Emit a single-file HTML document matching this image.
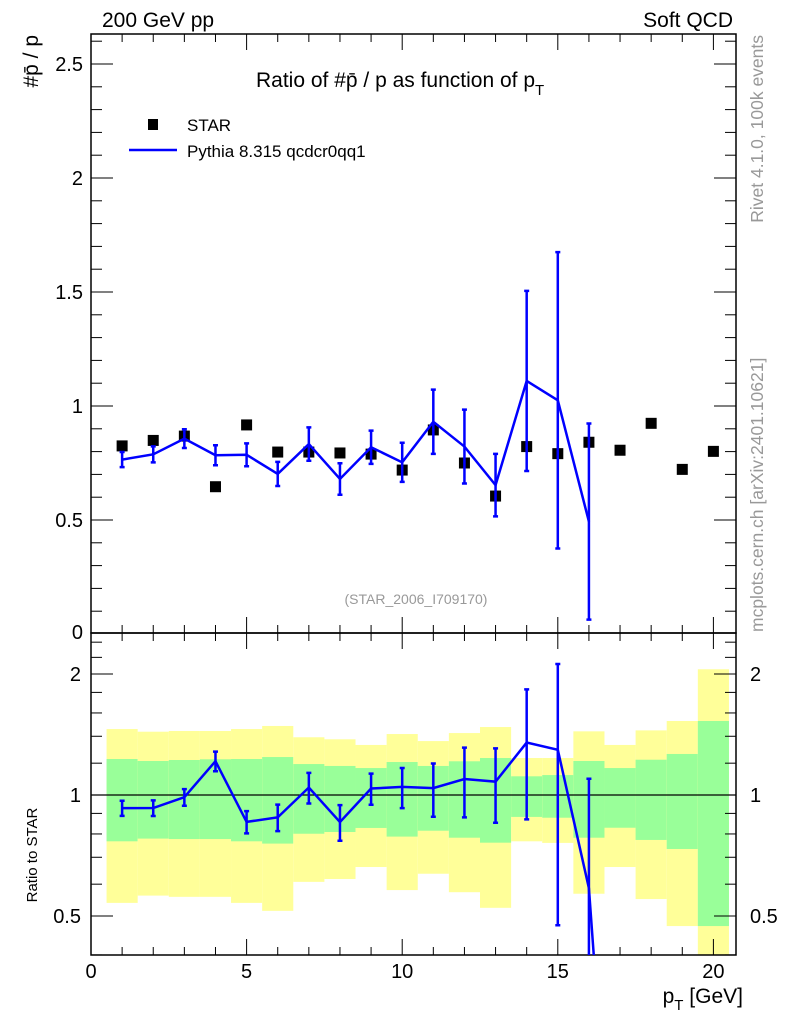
<!DOCTYPE html>
<html><head><meta charset="utf-8"><style>
html,body{margin:0;padding:0;background:#fff;width:786px;height:1024px;overflow:hidden;}
svg{display:block;font-family:"Liberation Sans",Arial,sans-serif;}
</style></head><body>
<svg id="c" width="786" height="1024" viewBox="0 0 786 1024"></svg>
<script>
const bins=[1,2,3,4,5,6,7,8,9,10,11,12,13,14,15,16,17,18,19,20];
const starVals=[0.825,0.849,0.868,0.646,0.917,0.798,0.798,0.794,0.789,0.719,0.895,0.75,0.605,0.822,0.791,0.841,0.806,0.924,0.722,0.801];
const pyVals=[0.765,0.788,0.857,0.784,0.786,0.702,0.833,0.68,0.819,0.753,0.931,0.822,0.653,1.11,1.025,0.493];
const pyErrs=[0.033,0.035,0.041,0.044,0.05,0.053,0.073,0.069,0.073,0.086,0.141,0.162,0.137,0.395,0.65,0.43];
const yelTop=[1.459,1.437,1.443,1.443,1.459,1.485,1.392,1.376,1.332,1.418,1.362,1.426,1.476,1.236,1.236,1.44,1.332,1.448,1.528,2.055];
const grnTop=[1.229,1.215,1.222,1.227,1.229,1.243,1.194,1.181,1.167,1.208,1.181,1.213,1.236,1.113,1.121,1.215,1.167,1.224,1.265,1.528];
const grnBot=[0.767,0.779,0.777,0.777,0.767,0.757,0.801,0.809,0.828,0.788,0.815,0.783,0.761,0.882,0.878,0.783,0.829,0.773,0.734,0.472];
const yelBot=[0.539,0.562,0.558,0.558,0.539,0.515,0.608,0.618,0.662,0.58,0.637,0.573,0.524,0.767,0.76,0.568,0.662,0.551,0.472,0.3];
const xTicks=[0,5,10,15,20];
const yTicksTop=[0.5,1,1.5,2,2.5];
const yTicksBot=[0.5,1,2];

const NS="http://www.w3.org/2000/svg";
const svg=document.getElementById('c');
function el(tag,attrs,parent){const e=document.createElementNS(NS,tag);for(const k in attrs)e.setAttribute(k,attrs[k]);(parent||svg).appendChild(e);return e;}
const L=91,R=736,T1=34,B1=633,T2=633,B2=955;
const xs=v=>L+v*31.12;
const yTop=v=>634-v*228;
const yBot=v=>795-Math.log2(v)*121;

const gb=el('g',{'clip-path':'url(#clipB)'});


const defs=el('defs',{});
const cp=el('clipPath',{id:'clipB'},defs);el('rect',{x:L,y:T2,width:R-L,height:B2-T2},cp);
const cp2=el('clipPath',{id:'clipT'},defs);el('rect',{x:L,y:T1,width:R-L,height:B1-T1},cp2);
bins.forEach((b,i)=>{
  const x0=xs(b-0.5),w=xs(b+0.5)-x0;
  const r1=el('rect',{x:x0,y:yBot(yelTop[i]),width:w,height:yBot(yelBot[i])-yBot(yelTop[i]),fill:'#ffff99'},gb);
  
  
  const r2=el('rect',{x:x0,y:yBot(grnTop[i]),width:w,height:yBot(grnBot[i])-yBot(grnTop[i]),fill:'#99ff99'},gb);
  
  
});
const one=el('line',{x1:L,x2:R,y1:yBot(1),y2:yBot(1),stroke:'#000','stroke-width':1.3});



[[T1,B1],[T2,B2]].forEach(([t,b],k)=>{
  const f=el('rect',{x:L,y:t,width:R-L,height:b-t,fill:'none',stroke:'#000','stroke-width':1.5});
  
  
  for(let v=0;v<=20.7;v++){
    const len=(v%5===0)?16:8;
    el('line',{x1:xs(v),x2:xs(v),y1:b,y2:b-len,stroke:'#000','stroke-width':1});
    el('line',{x1:xs(v),x2:xs(v),y1:t,y2:t+len,stroke:'#000','stroke-width':1});
  }
});
for(let i=1;i<=26;i++){const v=i/10;const y=yTop(v);if(y<T1)continue;const len=(i%5===0)?22:11;
  el('line',{x1:L,x2:L+len,y1:y,y2:y,stroke:'#000'});el('line',{x1:R,x2:R-len,y1:y,y2:y,stroke:'#000'});}
yTicksTop.forEach(v=>{const t=el('text',{x:L-8,y:yTop(v)+7,'text-anchor':'end','font-size':20});t.textContent=v;
  });
const z=el('text',{x:L-8,y:B1+6,'text-anchor':'end','font-size':20});z.textContent='0';
[0.4,0.5,0.6,0.7,0.8,0.9,1,1.2,1.4,1.6,1.8,2,2.2,2.4].forEach(v=>{const y=yBot(v);if(y<T2||y>B2)return;
  const len=[0.5,1,2].includes(v)?22:11;
  el('line',{x1:L,x2:L+len,y1:y,y2:y,stroke:'#000'});el('line',{x1:R,x2:R-len,y1:y,y2:y,stroke:'#000'});});
yTicksBot.forEach(v=>{
  const t=el('text',{x:L-10,y:yBot(v)+7,'text-anchor':'end','font-size':20});t.textContent=v;
  
  const t2=el('text',{x:R+14,y:yBot(v)+7,'font-size':20});t2.textContent=v;
  
});
xTicks.forEach(v=>{const t=el('text',{x:xs(v),y:978,'text-anchor':'middle','font-size':20});t.textContent=v;
  });

bins.forEach((b,i)=>{const r=el('rect',{x:xs(b)-5.5,y:yTop(starVals[i])-5.5,width:11,height:11,fill:'#000'});
  });
const gt=el('g',{'clip-path':'url(#clipT)',stroke:'#0000ff','stroke-width':2.5,fill:'none'});


el('polyline',{points:pyVals.map((v,i)=>xs(bins[i])+','+yTop(v)).join(' ')},gt);
pyVals.forEach((v,i)=>{const x=xs(bins[i]),y1=yTop(v+pyErrs[i]),y2=yTop(v-pyErrs[i]);
  const g=el('path',{d:`M${x},${y1}V${y2}M${x-2.5},${y1}H${x+2.5}M${x-2.5},${y2}H${x+2.5}`},gt);
  });
const gr=el('g',{'clip-path':'url(#clipB)',stroke:'#0000ff','stroke-width':2.5,fill:'none'});


const rat=pyVals.map((v,i)=>v/starVals[i]);
const pts=rat.map((r,i)=>xs(bins[i])+','+yBot(r));
pts.push(xs(17)+','+yBot(0.05));
el('polyline',{points:pts.join(' ')},gr);
rat.forEach((r,i)=>{const e=pyErrs[i]/starVals[i];const x=xs(bins[i]);const y1=yBot(r+e),y2=yBot(Math.max(r-e,0.01));
  const g=el('path',{d:`M${x},${y1}V${y2}M${x-2.5},${y1}H${x+2.5}M${x-2.5},${y2}H${x+2.5}`},gr);
  });

function txt(s,a,name){const t=el('text',a);t.textContent=s;return t;}
txt('200 GeV pp',{x:102,y:27,'font-size':21},'energy-label');
txt('Soft QCD',{x:733,y:27,'font-size':21,'text-anchor':'end'},'process-label');
const ti=txt('',{x:256,y:87,'font-size':21},'plot-title');
ti.innerHTML='Ratio of #p̄ / p as function of p<tspan dy="8" font-size="15">T</tspan>';
txt('STAR',{x:187,y:131,'font-size':17},'legend-star');
const lm=el('rect',{x:148,y:119,width:10,height:11,fill:'#000'});
const ll=el('line',{x1:129,x2:177,y1:150,y2:150,stroke:'#0000ff','stroke-width':2.5});
txt('Pythia 8.315 qcdcr0qq1',{x:187,y:157,'font-size':17},'legend-pythia');
txt('(STAR_2006_I709170)',{x:416,y:604,'font-size':14,fill:'#999','text-anchor':'middle'},'analysis-id');
txt('#p̄ / p',{x:0,y:0,'font-size':21,transform:'translate(38,35) rotate(-90)','text-anchor':'end'},'y-axis-title');
txt('Ratio to STAR',{x:0,y:0,'font-size':15,transform:'translate(37,855) rotate(-90)','text-anchor':'middle'},'ratio-axis-title');
const xt=txt('',{x:743,y:1003,'font-size':21,'text-anchor':'end'},'x-axis-title');
xt.innerHTML='p<tspan dy="7" font-size="15">T</tspan><tspan dy="-7"> [GeV]</tspan>';
txt('Rivet 4.1.0,  100k events',{x:0,y:0,'font-size':17.5,fill:'#999',transform:'translate(763,35) rotate(-90)','text-anchor':'end'},'rivet-label');
txt('mcplots.cern.ch [arXiv:2401.10621]',{x:0,y:0,'font-size':17.5,fill:'#999',transform:'translate(763,632) rotate(-90)'},'mcplots-label');
</script>
</body></html>
